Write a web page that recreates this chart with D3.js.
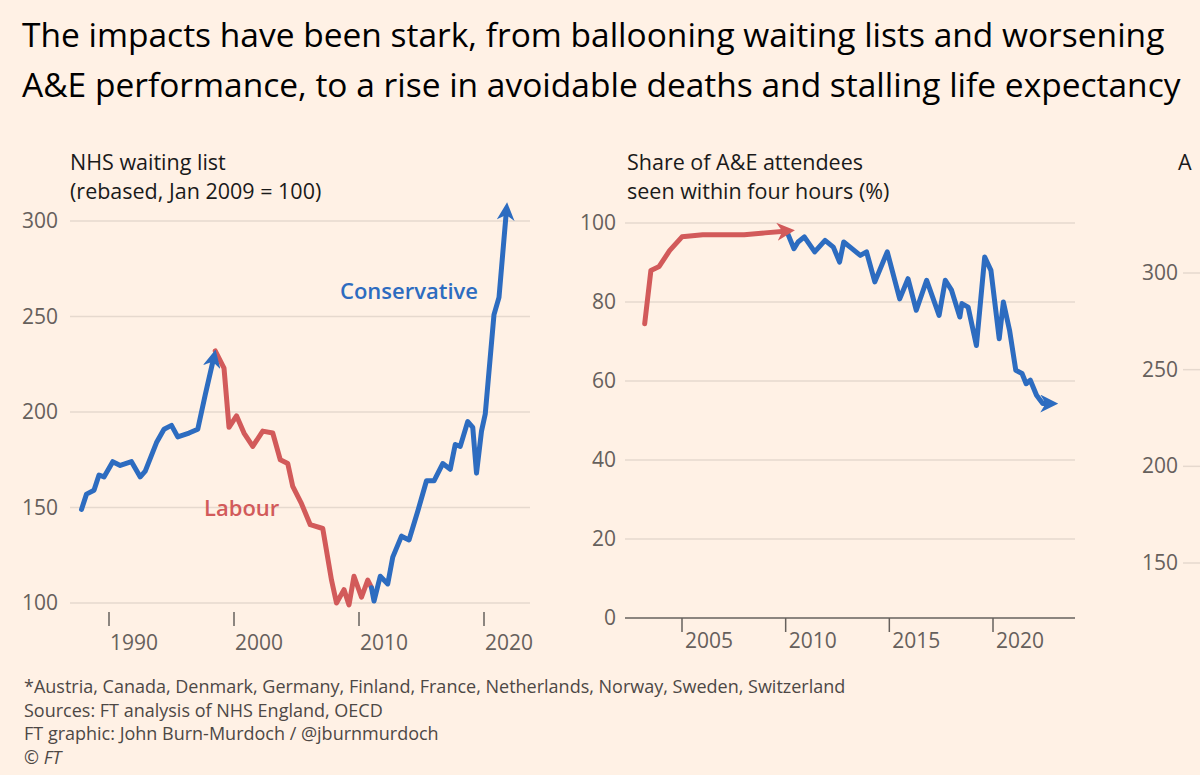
<!DOCTYPE html>
<html><head><meta charset="utf-8">
<script src="https://cdn.jsdelivr.net/npm/d3@7"></script>
<style>body{margin:0;background:#fff1e5;overflow:hidden}svg{display:block}text{font-family:"Open Sans",sans-serif}</style>
</head><body><svg id="c" width="1200" height="775"></svg>
<script>
// Chart 1: NHS waiting list (rebased)
const wlConYears1 = [1987.8,1988.2,1988.8,1989.2,1989.6,1990.3,1990.9,1991.8,1992.5,1992.9,1993.8,1994.4,1995.0,1995.5,1996.4,1997.1,1997.7,1998.4];
const wlConVals1  = [149,157,159,167,166,174,172,174,166,169,184,191,193,187,189,191,209,229];
const wlLabYears  = [1998.5,1999.2,1999.6,2000.2,2000.8,2001.5,2002.3,2003.1,2003.7,2004.3,2004.7,2005.4,2006.1,2007.1,2007.8,2008.2,2008.8,2009.2,2009.6,2010.2,2010.7,2011.0];
const wlLabVals   = [232,223,192,198,189,182,190,189,175,173,161,152,141,139,112,100,107,99,114,103,112,108];
const wlConYears2 = [2011.0,2011.2,2011.7,2012.3,2012.7,2013.4,2014.0,2014.7,2015.4,2016.0,2016.7,2017.3,2017.7,2018.1,2018.7,2019.1,2019.4,2019.8,2020.1,2020.8,2021.2,2021.8];
const wlConVals2  = [108,101,114,110,124,135,133,148,164,164,173,170,183,182,195,192,168,190,199,251,260,306];
const wlYTicks = [100,150,200,250,300];
const wlXTicks = [1990,2000,2010,2020];
// Chart 2: A&E four-hour share
const aeLabYears = [2003.2,2003.5,2003.9,2004.4,2005.0,2006.0,2008.0,2009.0,2010.1];
const aeLabVals  = [74.5,88,89,93,96.5,97,97,97.5,98];
const aeConYears = [2010.1,2010.4,2010.6,2010.9,2011.4,2011.9,2012.3,2012.6,2012.8,2013.2,2013.6,2013.9,2014.3,2014.9,2015.5,2015.9,2016.3,2016.8,2017.4,2017.7,2018.0,2018.4,2018.5,2018.8,2019.2,2019.6,2019.9,2020.3,2020.5,2020.8,2021.1,2021.4,2021.6,2021.8,2022.1,2022.4,2022.8];
const aeConVals  = [97.3,93.5,95.2,96.5,92.7,95.6,93.9,90.1,95.2,93.5,91.8,92.7,85.1,92.7,80.8,85.9,77.9,85.5,76.6,85.5,83.0,76.2,79.6,78.7,69.0,91.4,88.0,70.7,80.0,72.8,62.7,61.9,59.3,60.2,56.4,54.3,54.3];
const aeYTicks = [0,20,40,60,80,100];
const aeXTicks = [2005,2010,2015,2020];
// Chart 3 (cut off)
const c3YTicks = [150,200,250,300];

const svg = d3.select("#c");
const BLUE="#2d6cc0", RED="#d25a5a", GRID="#e6d9ce", TXT="#66605c";
svg.append("rect").attr("width",1200).attr("height",775).attr("fill","#fff1e5");
const defs = svg.append("defs");
[["aBlue",BLUE],["aRed",RED]].forEach(([id,c])=>{
  defs.append("marker").attr("id",id).attr("viewBox","0 0 10 10").attr("refX",6).attr("refY",5)
   .attr("markerWidth",3.6).attr("markerHeight",3.6).attr("orient","auto")
   .append("path").attr("d","M0,0L10,5L0,10L3,5Z").attr("fill",c);
});
svg.append("text").attr("x",22).attr("y",47).attr("font-size",33.5).attr("fill","#000").text("The impacts have been stark, from ballooning waiting lists and worsening");
svg.append("text").attr("x",22).attr("y",97).attr("font-size",33.5).attr("fill","#000").text("A&E performance, to a rise in avoidable deaths and stalling life expectancy");

function sub(x,lines){lines.forEach((t,i)=>svg.append("text").attr("x",x).attr("y",170+i*29).attr("font-size",21.5).attr("fill","#1a1a1a").text(t));}
sub(70,["NHS waiting list","(rebased, Jan 2009 = 100)"]);
sub(627,["Share of A&E attendees","seen within four hours (%)"]);
sub(1178,["A"]);

const line=(x,y)=>d3.line().x(d=>x(d[0])).y(d=>y(d[1]));
const zip=(a,b)=>a.map((v,i)=>[v,b[i]]);

// Chart 1
const x1=d3.scaleLinear().domain([1990,2020]).range([109,484]);
const y1=d3.scaleLinear().domain([100,300]).range([603,221]);
wlYTicks.forEach(t=>{
  svg.append("line").attr("x1",70).attr("x2",530).attr("y1",y1(t)).attr("y2",y1(t)).attr("stroke",GRID).attr("stroke-width",1.5);
  svg.append("text").attr("x",22).attr("y",y1(t)+7).attr("font-size",21).attr("fill",TXT).text(t);
});
wlXTicks.forEach(t=>{
  svg.append("line").attr("x1",x1(t)).attr("x2",x1(t)).attr("y1",612).attr("y2",626).attr("stroke",TXT).attr("stroke-width",1.5);
  svg.append("text").attr("x",x1(t)+1).attr("y",650).attr("font-size",21).attr("fill",TXT).text(t);
});
const pl=(x,y,d,c,m)=>svg.append("path").datum(d).attr("d",line(x,y)).attr("fill","none").attr("stroke",c).attr("stroke-width",5).attr("stroke-linejoin","round").attr("stroke-linecap","round").attr("marker-end",m?`url(#${m})`:null);
pl(x1,y1,zip(wlLabYears,wlLabVals),RED);
pl(x1,y1,zip(wlConYears1,wlConVals1),BLUE,"aBlue");
pl(x1,y1,zip(wlConYears2,wlConVals2),BLUE,"aBlue");
svg.append("text").attr("x",340).attr("y",299).attr("font-size",22).attr("font-weight",600).attr("fill",BLUE).text("Conservative");
svg.append("text").attr("x",204).attr("y",516).attr("font-size",22).attr("font-weight",600).attr("fill",RED).text("Labour");

// Chart 2
const x2=d3.scaleLinear().domain([2005,2020]).range([682,993]);
const y2=d3.scaleLinear().domain([0,100]).range([618,223]);
aeYTicks.forEach(t=>{
  svg.append("line").attr("x1",625).attr("x2",1075).attr("y1",y2(t)).attr("y2",y2(t)).attr("stroke",t===0?TXT:GRID).attr("stroke-width",1.5);
  svg.append("text").attr("x",616).attr("y",y2(t)+7).attr("text-anchor","end").attr("font-size",21).attr("fill",TXT).text(t);
});
aeXTicks.forEach(t=>{
  svg.append("line").attr("x1",x2(t)).attr("x2",x2(t)).attr("y1",618).attr("y2",632).attr("stroke",TXT).attr("stroke-width",1.5);
  svg.append("text").attr("x",x2(t)+3).attr("y",648).attr("font-size",21).attr("fill",TXT).text(t);
});
pl(x2,y2,zip(aeConYears,aeConVals),BLUE,"aBlue");
pl(x2,y2,zip(aeLabYears,aeLabVals),RED,"aRed");

// Chart 3 (partial)
const y3=d3.scaleLinear().domain([150,300]).range([563,273]);
c3YTicks.forEach(t=>{
  svg.append("line").attr("x1",1183).attr("x2",1200).attr("y1",y3(t)).attr("y2",y3(t)).attr("stroke",GRID).attr("stroke-width",1.5);
  svg.append("text").attr("x",1178).attr("y",y3(t)+7).attr("text-anchor","end").attr("font-size",21).attr("fill",TXT).text(t);
});

["*Austria, Canada, Denmark, Germany, Finland, France, Netherlands, Norway, Sweden, Switzerland","Sources: FT analysis of NHS England, OECD","FT graphic: John Burn-Murdoch / @jburnmurdoch","© FT"]
 .forEach((t,i)=>svg.append("text").attr("x",24).attr("y",693+i*23.5).attr("font-size",18).attr("fill","#4d4845").attr("font-style",i===3?"italic":null).text(t));
</script></body></html>
